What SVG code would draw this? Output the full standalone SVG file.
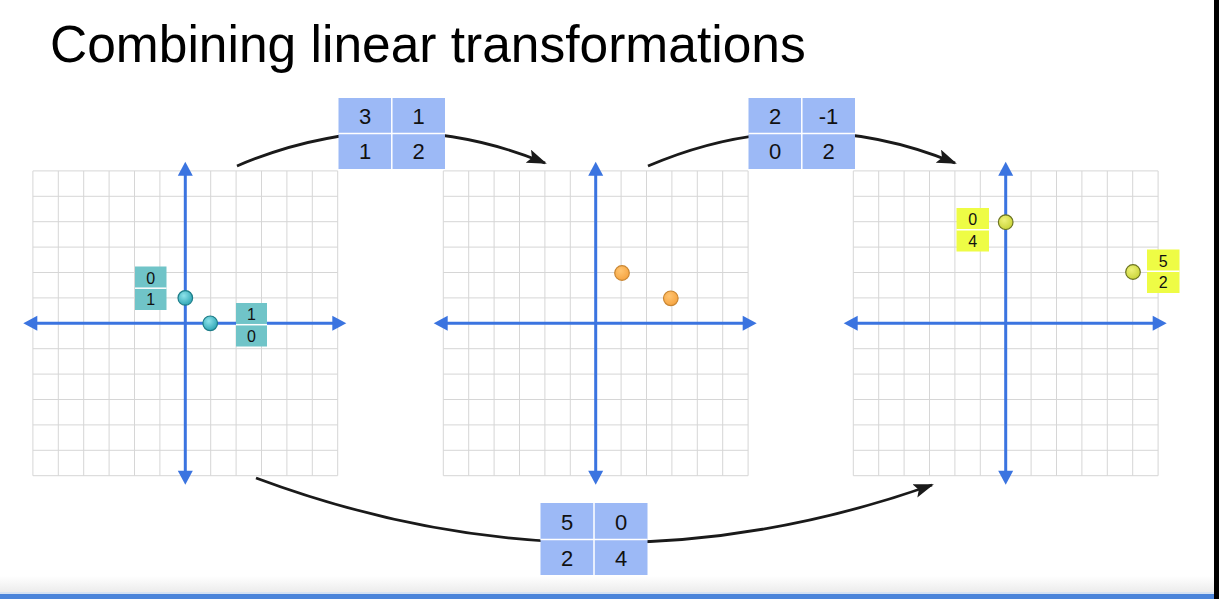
<svg xmlns="http://www.w3.org/2000/svg" xmlns:xlink="http://www.w3.org/1999/xlink" width="1219" height="599" viewBox="0 0 1219 599">
<style>
.title{font-family:"Liberation Sans",Arial,sans-serif;font-size:51.5px;fill:#000}
.gridl{stroke:#d6d6d6;stroke-width:1;fill:none}
.axis{stroke:#3b74e0;stroke-width:3;fill:none}
.axh{fill:#3b74e0}
.mcell{fill:#9cb9f6}
.mdiv{stroke:#ffffff;stroke-width:1.5;fill:none}
.mtxt{font-family:"Liberation Sans",Arial,sans-serif;font-size:22px;fill:#111;text-anchor:middle}
.ltxt{font-family:"Liberation Sans",Arial,sans-serif;font-size:16px;fill:#111;text-anchor:middle}
.teal{fill:#70c4c8}
.yel{fill:#eefc45}
.conn{stroke:#1a1a1a;stroke-width:2.8;fill:none}
.dteal{fill:url(#gt);stroke:#1d7d88;stroke-width:1.2}
.dor{fill:url(#go);stroke:#c98632;stroke-width:1.2}
.dyel{fill:url(#gy);stroke:#6c7420;stroke-width:1.2}
</style>
<defs>
<radialGradient id="gt" cx="0.4" cy="0.35" r="0.7"><stop offset="0" stop-color="#8ee3ea"/><stop offset="1" stop-color="#2aa3b3"/></radialGradient>
<radialGradient id="go" cx="0.4" cy="0.35" r="0.7"><stop offset="0" stop-color="#ffc572"/><stop offset="1" stop-color="#f5a23e"/></radialGradient>
<radialGradient id="gy" cx="0.4" cy="0.35" r="0.7"><stop offset="0" stop-color="#eef27a"/><stop offset="1" stop-color="#c8d336"/></radialGradient>
<linearGradient id="gb" x1="0" y1="0" x2="0" y2="1"><stop offset="0" stop-color="#ffffff"/><stop offset="1" stop-color="#ececec"/></linearGradient>
<marker id="ah" viewBox="0 0 20 14" refX="18" refY="7" markerWidth="20" markerHeight="14" markerUnits="userSpaceOnUse" orient="auto"><path d="M0 0L20 7L0 14L4 7Z" fill="#1a1a1a"/></marker>
<g id="plane">
<path class="gridl" d="M-152.4 -152.4V152.4M-127 -152.4V152.4M-101.6 -152.4V152.4M-76.2 -152.4V152.4M-50.8 -152.4V152.4M-25.4 -152.4V152.4M0 -152.4V152.4M25.4 -152.4V152.4M50.8 -152.4V152.4M76.2 -152.4V152.4M101.6 -152.4V152.4M127 -152.4V152.4M152.4 -152.4V152.4M-152.4 -152.4H152.4M-152.4 -127H152.4M-152.4 -101.6H152.4M-152.4 -76.2H152.4M-152.4 -50.8H152.4M-152.4 -25.4H152.4M-152.4 0H152.4M-152.4 25.4H152.4M-152.4 50.8H152.4M-152.4 76.2H152.4M-152.4 101.6H152.4M-152.4 127H152.4M-152.4 152.4H152.4"/>
<path class="axis" d="M-150 0H150M0 -149V149"/>
<path class="axh" d="M-162 0L-148 -7.5L-148 7.5Z"/>
<path class="axh" d="M161 0L147 -7.5L147 7.5Z"/>
<path class="axh" d="M0 -161.5L-7.5 -147.5L7.5 -147.5Z"/>
<path class="axh" d="M0 161.5L-7.5 147.5L7.5 147.5Z"/>
</g>
</defs>
<rect width="1219" height="599" fill="#ffffff"/>
<text class="title" x="50" y="62">Combining linear transformations</text>

<g id="connectors">
<path class="conn" d="M237 166Q391 100 545 163" marker-end="url(#ah)"/>
<path class="conn" d="M648 166Q802 100 955 163" marker-end="url(#ah)"/>
<path class="conn" d="M256 478Q594 604 932 485" marker-end="url(#ah)"/>
</g>

<g id="plane1">
<use xlink:href="#plane" transform="translate(185.3 323.3)"/>
<rect class="teal" x="135" y="266.5" width="31.5" height="43.5"/>
<path class="mdiv" d="M135 288.2H166.5"/>
<text class="ltxt" x="150.8" y="283.5">0</text>
<text class="ltxt" x="150.8" y="305">1</text>
<rect class="teal" x="236" y="303" width="31" height="43.5"/>
<path class="mdiv" d="M236 324.7H267"/>
<text class="ltxt" x="251.5" y="320">1</text>
<text class="ltxt" x="251.5" y="341.5">0</text>
<circle class="dteal" cx="185.3" cy="297.9" r="7.3"/>
<circle class="dteal" cx="210.2" cy="323.3" r="7.3"/>
</g>

<g id="plane2">
<use xlink:href="#plane" transform="translate(595.7 323.3)"/>
<circle class="dor" cx="622" cy="273" r="7.3"/>
<circle class="dor" cx="670.8" cy="298.3" r="7.3"/>
</g>

<g id="plane3">
<use xlink:href="#plane" transform="translate(1005.7 323.3)"/>
<rect class="yel" x="956.5" y="208" width="32.5" height="43.5"/>
<path class="mdiv" d="M956.5 229.7H989"/>
<text class="ltxt" x="972.7" y="225">0</text>
<text class="ltxt" x="972.7" y="246.5">4</text>
<rect class="yel" x="1147" y="249.5" width="32.5" height="43.5"/>
<path class="mdiv" d="M1147 271.2H1179.5"/>
<text class="ltxt" x="1163.2" y="266.5">5</text>
<text class="ltxt" x="1163.2" y="288">2</text>
<circle class="dyel" cx="1005.7" cy="222.2" r="7.3"/>
<circle class="dyel" cx="1133" cy="272" r="7.3"/>
</g>

<g id="matrix1">
<rect class="mcell" x="338.5" y="98" width="106.5" height="71"/>
<path class="mdiv" d="M391.8 98V169M338.5 133.5H445"/>
<text class="mtxt" x="365" y="123.5">3</text>
<text class="mtxt" x="418.5" y="123.5">1</text>
<text class="mtxt" x="365" y="159">1</text>
<text class="mtxt" x="418.5" y="159">2</text>
</g>

<g id="matrix2">
<rect class="mcell" x="748.5" y="98" width="106.5" height="71"/>
<path class="mdiv" d="M801.8 98V169M748.5 133.5H855"/>
<text class="mtxt" x="775" y="123.5">2</text>
<text class="mtxt" x="828.5" y="123.5">-1</text>
<text class="mtxt" x="775" y="159">0</text>
<text class="mtxt" x="828.5" y="159">2</text>
</g>

<g id="matrix3">
<rect class="mcell" x="540.5" y="503" width="107" height="72"/>
<path class="mdiv" d="M594 503V575M540.5 539.5H647.5"/>
<text class="mtxt" x="567" y="529.5">5</text>
<text class="mtxt" x="621" y="529.5">0</text>
<text class="mtxt" x="567" y="565.5">2</text>
<text class="mtxt" x="621" y="565.5">4</text>
</g>

<rect x="0" y="576" width="1214" height="16" fill="url(#gb)"/>
<rect x="0" y="592" width="1214" height="2" fill="#d6e2f2"/>
<rect x="0" y="594" width="1214" height="5" fill="#4a84da"/>
<rect x="1214" y="0" width="5" height="599" fill="#000000"/>
</svg>
